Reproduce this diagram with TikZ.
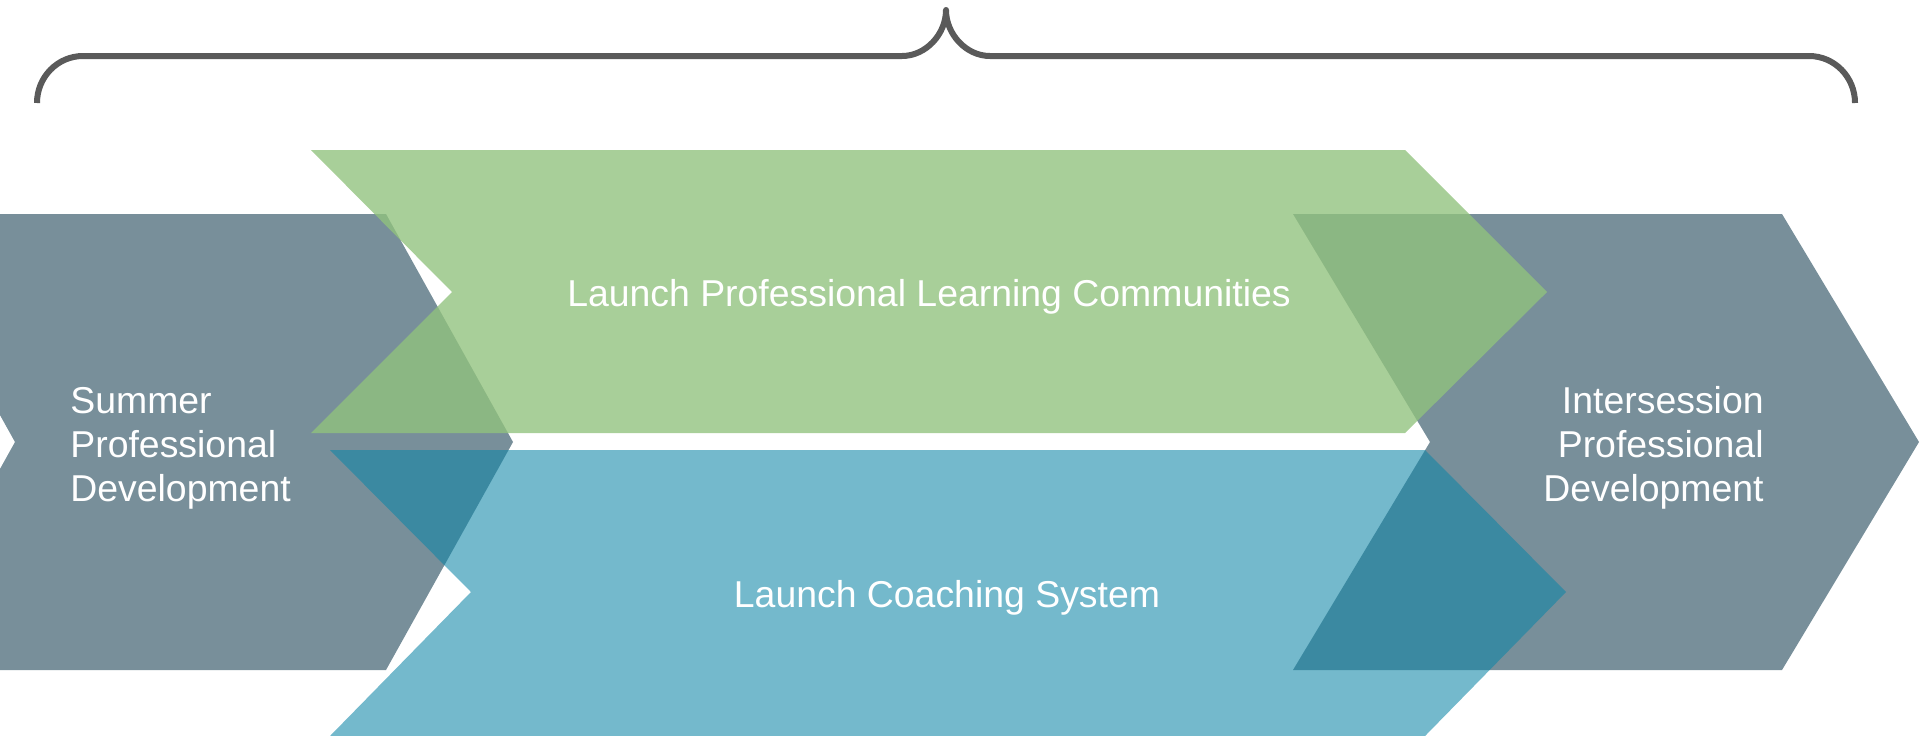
\documentclass[tikz,border=0pt]{standalone}
\usepackage{fontspec}
\setmainfont{Liberation Sans}
\definecolor{slate}{RGB}{120,143,154}
\definecolor{leaf}{RGB}{145,194,125}
\definecolor{sea}{RGB}{15,134,167}
\definecolor{bracegray}{RGB}{90,90,90}
\begin{document}
\begin{tikzpicture}[x=0.5pt,y=-0.5pt,
  lbl/.style={text=white,font=\fontsize{18.7}{22}\selectfont,inner sep=0pt},
  phase/.style={fill=slate},
  greenband/.style={fill=leaf,fill opacity=0.79},
  blueband/.style={fill=sea,fill opacity=0.58},
  bracestyle/.style={draw=bracegray,line width=3pt,line join=round}]
\useasboundingbox (0,0) rectangle (1920,735);
\clip (0,0) rectangle (1920,735);
% gray chevrons
\fill[phase] (-112,214) -- (386,214) -- (513,442) -- (386,670) -- (-112,670) -- (15,442) -- cycle;
\fill[phase] (1293,214) -- (1782,214) -- (1919,442) -- (1782,670) -- (1293,670) -- (1430,442) -- cycle;
% green and blue chevrons
\fill[greenband] (311,150) -- (1405,150) -- (1547,292) -- (1405,433) -- (311,433) -- (452,292) -- cycle;
\fill[blueband] (330,450) -- (1425,450) -- (1566,592) -- (1425,736) -- (330,736) -- (471,592) -- cycle;
% brace
\draw[bracestyle] (37,103) .. controls (37,77) and (57.6,56) .. (83,56) -- (902,56)
  .. controls (926,56) and (946,34) .. (946,10)
  .. controls (946,34) and (966,56) .. (990,56) -- (1809,56)
  .. controls (1834.4,56) and (1855,77) .. (1855,103);
% labels
\node[lbl,anchor=base] (plc) at (929,306) {Launch Professional Learning Communities};
\node[lbl,anchor=base] (cs) at (947,607) {Launch Coaching System};
\node[lbl,align=left,anchor=base west] (spd) at (70,501) {Summer\\Professional\\Development};
\node[lbl,align=right,anchor=base east] (ipd) at (1764,501) {Intersession\\Professional\\Development};
\end{tikzpicture}
\end{document}
